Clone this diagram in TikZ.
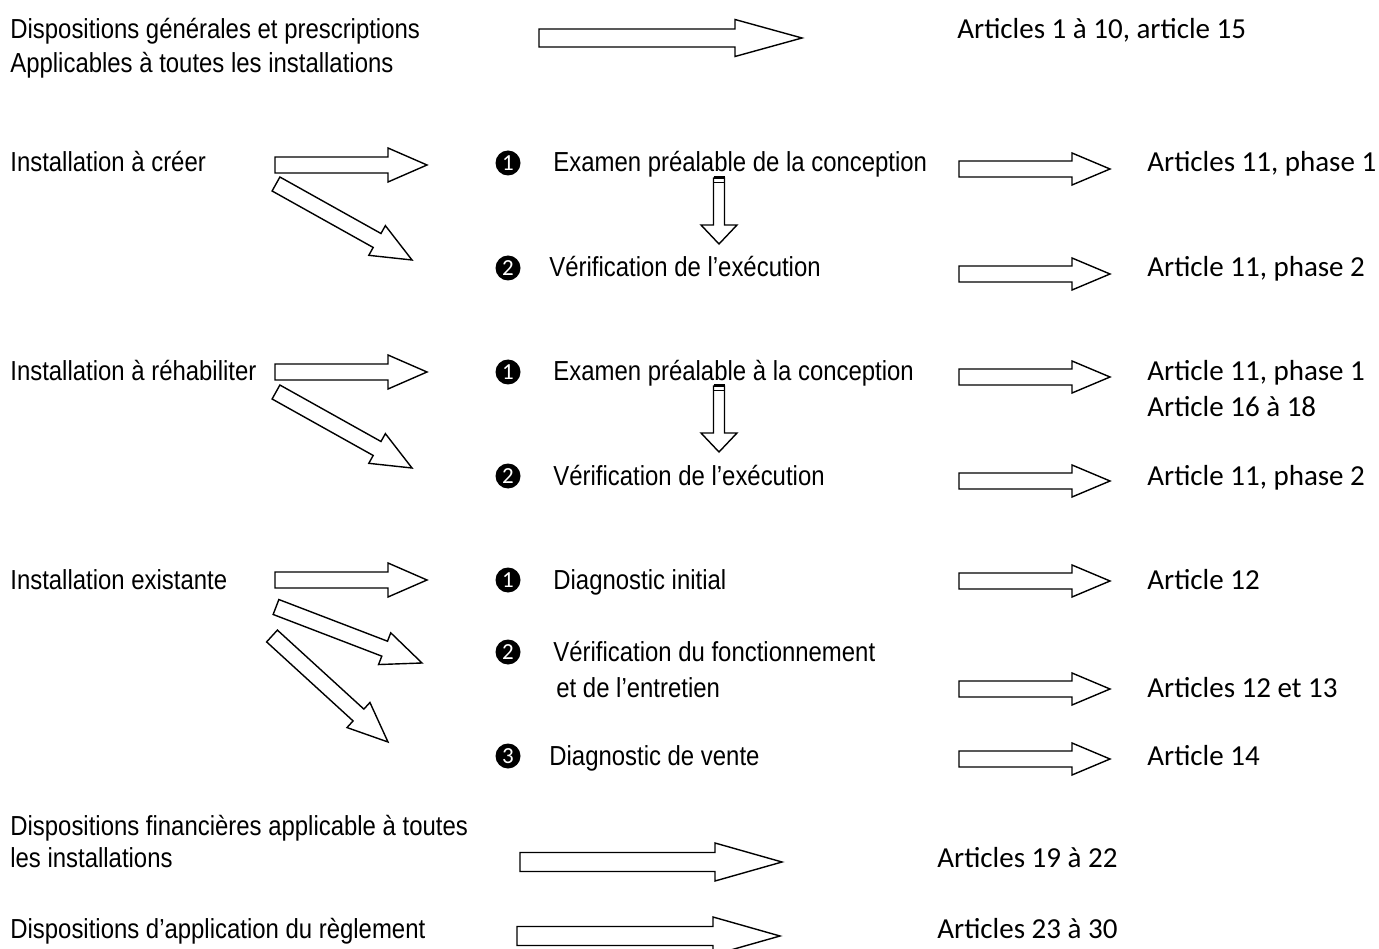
\documentclass[tikz,border=0pt]{standalone}
\usepackage{fontspec}
\setmainfont{Liberation Sans}[FakeStretch=0.87]
\newfontfamily\calibfont{Carlito}
\usetikzlibrary{calc}

\tikzset{every picture/.style={line width=0.75pt}}
\tikzset{
  lbl/.style={anchor=base west, inner sep=0pt, font=\fontsize{27.5}{30}\selectfont},
  art/.style={anchor=base west, inner sep=0pt, font=\calibfont\fontsize{29}{32}\selectfont},
  numdot/.style={circle, fill=black, inner sep=0pt, minimum size=25pt, text=white, font=\calibfont\fontsize{23}{23}\selectfont},
  blockarr/.style={draw=black, fill=white, line width=1.4pt, line join=miter},
}

% block arrow: from, to, shaft half width, head half width, head length
\newcommand{\blockarrow}[5]{%
  \coordinate (ba-h) at ($(#2)!#5!(#1)$);
  \draw[blockarr] ($(#1)!#3!90:(#2)$) -- ($(ba-h)!#3!-90:(#1)$) -- ($(ba-h)!#4!-90:(#1)$) -- (#2)
    -- ($(ba-h)!#4!90:(#1)$) -- ($(ba-h)!#3!90:(#1)$) -- ($(#1)!#3!-90:(#2)$) -- cycle;
}

\begin{document}
\begin{tikzpicture}[x=1pt,y=1pt,yscale=-1,xscale=1]
\useasboundingbox[fill=white] (0,0) rectangle (1379,949);

% Text Node
\node[lbl] (gen-a) at (10,39) {Dispositions générales et prescriptions};
\node[lbl] (gen-b) at (10,73) {Applicables à toutes les installations};
\node[art] (art-gen) at (957,39) {Articles 1 à 10, article 15};

% Text Node
\node[lbl] (cre) at (10,172) {Installation à créer};
\node[numdot] (cre-n1) at (508,163) {1};
\node[lbl] (cre-exa) at (553,172) {Examen préalable de la conception};
\node[art] (cre-art1) at (1147,172) {Articles 11, phase 1};
\node[numdot] (cre-n2) at (508,268) {2};
\node[lbl] (cre-ver) at (549,277) {Vérification de l’exécution};
\node[art] (cre-art2) at (1147,277) {Article 11, phase 2};

% Text Node
\node[lbl] (reh) at (10,381) {Installation à réhabiliter};
\node[numdot] (reh-n1) at (508,372) {1};
\node[lbl] (reh-exa) at (553,381) {Examen préalable à la conception};
\node[art] (reh-art1) at (1147,381) {Article 11, phase 1};
\node[art] (reh-art1b) at (1147,417) {Article 16 à 18};
\node[numdot] (reh-n2) at (508,476) {2};
\node[lbl] (reh-ver) at (553,485) {Vérification de l’exécution};
\node[art] (reh-art2) at (1147,485) {Article 11, phase 2};

% Text Node
\node[lbl] (exi) at (10,589) {Installation existante};
\node[numdot] (exi-n1) at (508,580) {1};
\node[lbl] (exi-dia) at (553,589) {Diagnostic initial};
\node[art] (exi-art1) at (1147,589) {Article 12};
\node[numdot] (exi-n2) at (508,652) {2};
\node[lbl] (exi-ver) at (553,661) {Vérification du fonctionnement};
\node[lbl] (exi-ver-b) at (556,697) {et de l’entretien};
\node[art] (exi-art2) at (1147,697) {Articles 12 et 13};
\node[numdot] (exi-n3) at (508,756) {3};
\node[lbl] (exi-ven) at (549,765) {Diagnostic de vente};
\node[art] (exi-art3) at (1147,765) {Article 14};

% Text Node
\node[lbl] (fin-a) at (10,835) {Dispositions financières applicable à toutes};
\node[lbl] (fin-b) at (10,867) {les installations};
\node[art] (art-fin) at (937,867) {Articles 19 à 22};
\node[lbl] (app) at (10,938) {Dispositions d’application du règlement};
\node[art] (art-app) at (937,938) {Articles 23 à 30};

% arrow ends
\coordinate (gen-s) at (539,38);   \coordinate (gen-e) at (802,38);
\coordinate (fin-s) at (520,862);  \coordinate (fin-e) at (782,862);
\coordinate (app-s) at (517,936);  \coordinate (app-e) at (780,936);

\coordinate (cre-s) at (275,165);  \coordinate (cre-e) at (427,165);
\coordinate (cre-ds) at (276,184); \coordinate (cre-de) at (412,260);
\coordinate (reh-s) at (275,372);  \coordinate (reh-e) at (427,372);
\coordinate (reh-ds) at (276,392); \coordinate (reh-de) at (412,468);
\coordinate (exi-s) at (275,580);  \coordinate (exi-e) at (427,580);
\coordinate (exi-ds) at (276,607); \coordinate (exi-de) at (422,663);
\coordinate (exi-ts) at (272,636); \coordinate (exi-te) at (388,742);

\coordinate (cre-vs) at (719,178); \coordinate (cre-ve) at (719,244);
\coordinate (reh-vs) at (719,386); \coordinate (reh-ve) at (719,452);

\coordinate (r1-s) at (959,169);  \coordinate (r1-e) at (1110,169);
\coordinate (r2-s) at (959,274);  \coordinate (r2-e) at (1110,274);
\coordinate (r3-s) at (959,377);  \coordinate (r3-e) at (1110,377);
\coordinate (r4-s) at (959,481);  \coordinate (r4-e) at (1110,481);
\coordinate (r5-s) at (959,581);  \coordinate (r5-e) at (1110,581);
\coordinate (r6-s) at (959,689);  \coordinate (r6-e) at (1110,689);
\coordinate (r7-s) at (959,759);  \coordinate (r7-e) at (1110,759);

% Block Arrows
\blockarrow{gen-s}{gen-e}{9pt}{18.5pt}{67pt}
\blockarrow{fin-s}{fin-e}{9.5pt}{19pt}{67pt}
\blockarrow{app-s}{app-e}{9.5pt}{19pt}{67pt}

\blockarrow{cre-s}{cre-e}{8pt}{17pt}{39pt}
\blockarrow{cre-ds}{cre-de}{8pt}{17pt}{40pt}
\blockarrow{reh-s}{reh-e}{8pt}{17pt}{39pt}
\blockarrow{reh-ds}{reh-de}{8pt}{17pt}{40pt}
\blockarrow{exi-s}{exi-e}{8pt}{17pt}{39pt}
\blockarrow{exi-ds}{exi-de}{8pt}{17pt}{40pt}
\blockarrow{exi-ts}{exi-te}{8pt}{17pt}{40pt}

\blockarrow{cre-vs}{cre-ve}{5.5pt}{18pt}{19pt}
\draw[line width=3pt] ([xshift=-5.5pt]cre-vs) -- ([xshift=5.5pt]cre-vs);
\draw[line width=1pt] ([xshift=-5.5pt,yshift=4.5pt]cre-vs) -- ([xshift=5.5pt,yshift=4.5pt]cre-vs);
\blockarrow{reh-vs}{reh-ve}{5.5pt}{18pt}{19pt}
\draw[line width=3pt] ([xshift=-5.5pt]reh-vs) -- ([xshift=5.5pt]reh-vs);
\draw[line width=1pt] ([xshift=-5.5pt,yshift=4.5pt]reh-vs) -- ([xshift=5.5pt,yshift=4.5pt]reh-vs);

\foreach \r in {r1,r2,r3,r4,r5,r6,r7}{
  \blockarrow{\r-s}{\r-e}{8pt}{16pt}{38pt}
}

\end{tikzpicture}
\end{document}
